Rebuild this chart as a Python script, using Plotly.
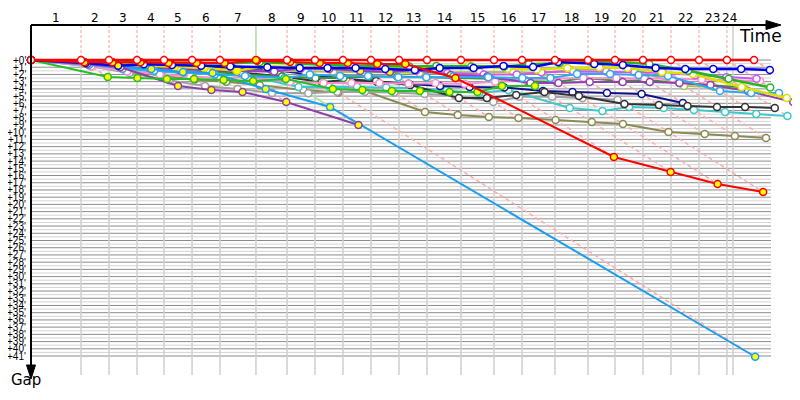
import plotly.graph_objects as go

# ---------------- data ----------------
# leader crossing time of each lap (minutes); index 0 = start
lap_times = [0.0, 4.39, 6.85, 9.31, 11.68, 14.14, 16.59, 19.75, 22.48, 24.93, 27.39,
             29.85, 32.31, 34.77, 37.75, 40.65, 43.11, 46.00, 48.90, 51.27, 53.73,
             56.19, 58.65, 61.10, 63.48]
now_time = 61.63
lap_labels = ["1", "2", "3", "4", "5", "6", "7", "8", "9", "10", "11", "12",
              "13", "14", "15", "16", "17", "18", "19", "20", "21", "22", "23", "24"]
highlight_lap = 7
gap_ticks = list(range(0, 42))
gap_tick_labels = ["+%d'" % g for g in gap_ticks]

# gap to leader (minutes) at the end of each lap, lap 0 = start
leader = [0, 0, 0, 0, 0, 0, 0, 0, 0, 0, 0, 0, 0, 0, 0, 0, 0, 0, 0, 0, 0, 0, 0, 0, 0]
red2 = [0, 0.3, 0.3, 0.3, 0.4, 0.4, 0.4, 0.1, 0.28, 0.42, 0.42, 0.55, 0.55, 2.49,
        13.43, 15.51, 17.17, 18.28]
blue = [0, 0.4, 0.8, 0.6, 0.7, 0.8, 0.9, 1.0, 1.11, 1.11, 1.11, 1.25, 1.39, 1.11,
        1.11, 0.83, 0.97, 0.28, 0.55, 0.69, 1.11, 1.25, 1.25, 1.25, 1.39]
green_top = [0, 0.2, 0.3, 0.3, 0.4, 0.4, 0.5, 0.3, 0.5, 0.7, 0.8, 0.8, 0.9, 0.83,
             0.9, 0.9, 0.6, 0.4, 0.28, 0.28, 0.55, 1.5, 2.6, 3.8]
green_low = [0, 2.35, 2.49, 2.63, 2.63, 2.77, 2.91, 2.63, 4.02, 4.16, 4.29, 4.29,
             4.43, 4.43, 3.6, 3.6]
purple_low = [0, 0.55, 1.0, 3.6, 4.16, 4.43, 5.82, 9.0]
skyblue = [0, 0.42, 0.97, 1.25, 1.66, 1.8, 4.02, 6.51, 41.1]
yellow = [0, 0.3, 0.6, 0.8, 0.97, 1.1, 1.5, 0.83, 1.0, 1.0, 1.1, 1.2, 1.2, 1.1,
          0.7, 1.2, 1.3, 1.1, 1.0, 1.1, 1.66, 1.94, 3.74, 5.26]
yellowgreen = [0, 0.4, 0.8, 1.0, 1.2, 1.3, 1.4, 1.5, 1.6, 1.6, 1.7, 1.7, 1.8, 1.7,
               1.66, 1.66, 1.8, 1.4, 1.3, 0.83, 3.6, 3.74, 4.0]
lightblue = [0, 0.7, 1.2, 1.5, 1.7, 2.0, 2.2, 2.5, 2.0, 2.2, 2.2, 2.4, 2.4, 2.3,
             2.4, 2.49, 2.49, 1.94, 1.94, 2.08, 2.2, 4.3, 4.57, 4.57]
purple = [0, 0.5, 0.9, 1.1, 1.3, 1.4, 1.5, 1.6, 1.11, 1.25, 1.52, 1.66, 1.39, 2.08,
          2.3, 3.2, 3.2, 3.05, 3.05, 3.05, 3.2, 3.46, 4.29, 5.82]
pink = [0, 0.9, 1.6, 2.0, 2.3, 2.5, 2.4, 3.0, 3.2, 3.2, 3.2, 3.3, 3.2, 3.3, 3.0,
        2.8, 2.6, 2.5, 2.5, 2.6, 2.6, 2.7, 2.77, 2.91]
magenta = [0, 0.6, 1.0, 1.2, 1.3, 1.4, 1.5, 1.6, 1.2, 1.2, 1.4, 1.5, 1.5, 1.8, 2.0,
           2.0, 1.7, 1.6, 1.6, 1.7, 1.8, 2.1, 2.4, 2.6]
black = [0, 0.5, 0.9, 1.1, 1.3, 1.5, 1.7, 2.3, 3.05, 2.77, 2.9, 3.46, 5.26, 5.26,
         4.85, 4.43, 4.99, 6.1, 6.23, 6.37, 6.5, 6.5, 6.65]
navy = [0, 0.3, 0.7, 0.8, 0.9, 1.0, 1.1, 1.3, 2.0, 2.6, 3.0, 3.3, 3.6, 3.74, 3.8,
        4.3, 4.43, 4.57, 4.71, 5.96]
turquoise = [0, 0.8, 1.3, 1.6, 1.8, 2.0, 2.08, 3.74, 3.7, 3.7, 3.8, 3.9, 4.2, 4.57,
             4.16, 6.65, 7.06, 6.51, 6.65, 6.93, 7.2, 7.48, 7.76]
olive = [0, 0.8, 1.5, 2.2, 2.7, 3.0, 3.5, 4.16, 4.5, 4.2, 7.2, 7.62, 7.89, 8.03,
         8.31, 8.59, 8.86, 9.97, 10.25, 10.53, 10.8]
gray = [0, 0.9, 1.8, 2.8, 3.6, 4.0, 4.57, 4.6, 4.4, 4.4, 4.5, 4.7, 4.9, 5.82, 5.1,
        5.1, 5.3, 5.5]
darkgreen = [0, 0.5, 0.9, 1.2, 1.4, 1.6, 2.0, 2.3, 2.49, 2.5, 2.3, 2.3, 2.4, 2.5,
             2.6, 2.9, 3.05, 2.49, 2.91, 2.77, 3.2, 3.5, 3.8]

# laps whose marker is drawn with a yellow fill
leader_yellow = [7]
red2_yellow = list(range(0, 18))
green_low_yellow = list(range(0, 16))
purple_low_yellow = list(range(0, 8))
skyblue_yellow = list(range(0, 9))
blue_yellow = [1, 2]
purple_yellow = [8, 9, 10, 11, 12, 13]
yellow_yellow = [1, 2, 3, 4, 5, 6, 7]

# ---------------- styles ----------------
# (gaps, yellow laps, colour, line width) drawn back to front
series = [
    (olive, [], "#8a8a52", 2),
    (gray, [], "#a0a0a0", 2),
    (turquoise, [], "#3cc8cc", 2),
    (navy, [], "#10108a", 2),
    (black, [], "#333333", 2),
    (darkgreen, [], "#2e9a2e", 2),
    (yellowgreen, [], "#b0c050", 2),
    (pink, [], "#ff8ccc", 2),
    (magenta, [], "#cc55ff", 2),
    (purple, purple_yellow, "#9440b0", 2),
    (lightblue, [], "#2ea8f0", 2),
    (yellow, yellow_yellow, "#e0e000", 2.5),
    (skyblue, skyblue_yellow, "#1a9ff0", 2),
    (purple_low, purple_low_yellow, "#8e3fa6", 2),
    (green_low, green_low_yellow, "#22c022", 2),
    (green_top, [], "#22b822", 2.5),
    (blue, blue_yellow, "#0000ee", 2.5),
    (red2, red2_yellow, "#ff0000", 2),
    (leader, leader_yellow, "#ff0000", 2.5),
]

OFF = 8                   # page body margin of the html page
W, H = 800 - 2 * OFF, 400 - 2 * OFF
X0, PXM = 31, 11.39      # screen pixel of time 0, pixels per minute (time)
Y0, PYM = 60, 7.22       # screen pixel of gap 0, pixels per minute (gap)
TOP_PX, BOT_PX, GRID_RIGHT_PX = 25, 375, 771
FONT = "Tahoma, DejaVu Sans, sans-serif"
TICK_FONT = "Liberation Sans, Arial, sans-serif"


def t_of(px):
    return (px - X0) / PXM


def g_of(py):
    return (py - Y0) / PYM


def xp(px):
    return (px - OFF) / W


def yp(py):
    return 1 - (py - OFF) / H


g_top, g_bot = g_of(TOP_PX), g_of(BOT_PX)
fig = go.Figure()

# horizontal grid
light_x, light_y, dark_x, dark_y = [], [], [], []
for i in range(0, 2 * gap_ticks[-1] + 1):
    g = i / 2
    if i % 2 == 0:
        dark_x += [0, t_of(GRID_RIGHT_PX), None]
        dark_y += [g, g, None]
    else:
        light_x += [0, t_of(GRID_RIGHT_PX), None]
        light_y += [g, g, None]
fig.add_trace(go.Scatter(x=light_x, y=light_y, mode="lines",
                         line=dict(color="#d4d4d4", width=1), hoverinfo="skip"))
fig.add_trace(go.Scatter(x=dark_x, y=dark_y, mode="lines",
                         line=dict(color="#8c8c8c", width=1), hoverinfo="skip"))

# vertical lap grid + lap markers on top
vx, vy, px_, py_ = [], [], [], []
for k in range(1, len(lap_times)):
    T = lap_times[k]
    if T > now_time:
        continue
    vx += [T, T, None]
    vy += [0, g_bot, None]
    if k != highlight_lap:
        px_ += [T, T, None]
        py_ += [g_top, 0, None]
vx += [now_time, now_time, None]
vy += [g_top, g_bot, None]
fig.add_trace(go.Scatter(x=vx, y=vy, mode="lines",
                         line=dict(color="#cfcfcf", width=1.5), hoverinfo="skip"))
fig.add_trace(go.Scatter(x=px_, y=py_, mode="lines",
                         line=dict(color="#ff9c9c", width=1, dash="3px,2px"),
                         hoverinfo="skip"))

# diagonal lap lines (leader crossing -> slowest car of that lap)
dx, dy, hx, hy = [], [], [], []
for k in range(1, len(lap_times)):
    gmax = 0
    for s in series:
        gaps = s[0]
        if k < len(gaps) and gaps[k] is not None:
            gmax = max(gmax, gaps[k])
    if gmax <= 0:
        continue
    T = lap_times[k]
    if k == highlight_lap:
        hx += [T, T + gmax, None]
        hy += [0, gmax, None]
    else:
        dx += [T, T + gmax, None]
        dy += [0, gmax, None]
fig.add_trace(go.Scatter(x=dx, y=dy, mode="lines",
                         line=dict(color="#ffaaaa", width=1.5, dash="4px,3px"),
                         hoverinfo="skip"))
T7 = lap_times[highlight_lap]
fig.add_trace(go.Scatter(x=hx + [T7, T7], y=hy + [g_top, 0], mode="lines",
                         line=dict(color="#a8e0a8", width=1.5), hoverinfo="skip"))

# cars
for gaps, ylaps, color, lw in series:
    xs, ys, fills = [], [], []
    for k, g in enumerate(gaps):
        if g is None:
            continue
        xs.append(lap_times[k] + g)
        ys.append(g)
        fills.append("#ffff00" if k in ylaps else "#ffffff")
    fig.add_trace(go.Scatter(
        x=xs, y=ys, mode="lines+markers",
        line=dict(color=color, width=lw),
        marker=dict(symbol="circle", size=7, color=fills,
                    line=dict(color=color, width=1.5)),
        hoverinfo="skip"))

shapes = [
    dict(type="line", xref="paper", yref="paper", x0=xp(X0), y0=yp(TOP_PX),
         x1=xp(770), y1=yp(TOP_PX), line=dict(color="black", width=2)),
    dict(type="path", xref="paper", yref="paper",
         path="M %f %f L %f %f L %f %f Z" % (xp(766), yp(20.5), xp(781), yp(25), xp(766), yp(29.5)),
         fillcolor="black", line=dict(color="black", width=1)),
    dict(type="line", xref="paper", yref="paper", x0=xp(X0), y0=yp(TOP_PX),
         x1=xp(X0), y1=yp(368), line=dict(color="black", width=2)),
    dict(type="path", xref="paper", yref="paper",
         path="M %f %f L %f %f L %f %f Z" % (xp(26.5), yp(365), xp(31), yp(379), xp(35.5), yp(365)),
         fillcolor="black", line=dict(color="black", width=1)),
]

annotations = []
for g, lab in zip(gap_ticks, gap_tick_labels):
    annotations.append(dict(xref="paper", yref="y", x=xp(28), y=g, text=lab,
                            showarrow=False, xanchor="right", yanchor="middle",
                            font=dict(family=TICK_FONT, size=10, color="black")))
for k, lab in enumerate(lap_labels, start=1):
    a = lap_times[k - 1]
    b = min(lap_times[k], now_time)
    annotations.append(dict(xref="x", yref="paper", x=(a + b) / 2, y=yp(18), text=lab,
                            showarrow=False, xanchor="center", yanchor="middle",
                            font=dict(family=FONT, size=12, color="black")))
annotations.append(dict(xref="paper", yref="paper", x=xp(760), y=yp(36), text="Time",
                        showarrow=False, xanchor="center", yanchor="middle",
                        font=dict(family=FONT, size=17, color="black")))
annotations.append(dict(xref="paper", yref="paper", x=xp(26), y=yp(391), text="Gap",
                        showarrow=False, xanchor="center", yanchor="bottom",
                        font=dict(family=FONT, size=15, color="black")))

fig.update_layout(
    width=W, height=H, margin=dict(l=0, r=0, t=0, b=0),
    paper_bgcolor="white", plot_bgcolor="white", showlegend=False,
    xaxis=dict(visible=False, range=[t_of(OFF), t_of(OFF + W)], fixedrange=True),
    yaxis=dict(visible=False, range=[g_of(OFF + H), g_of(OFF)], fixedrange=True),
    shapes=shapes, annotations=annotations,
)
fig.write_html("out.html")
